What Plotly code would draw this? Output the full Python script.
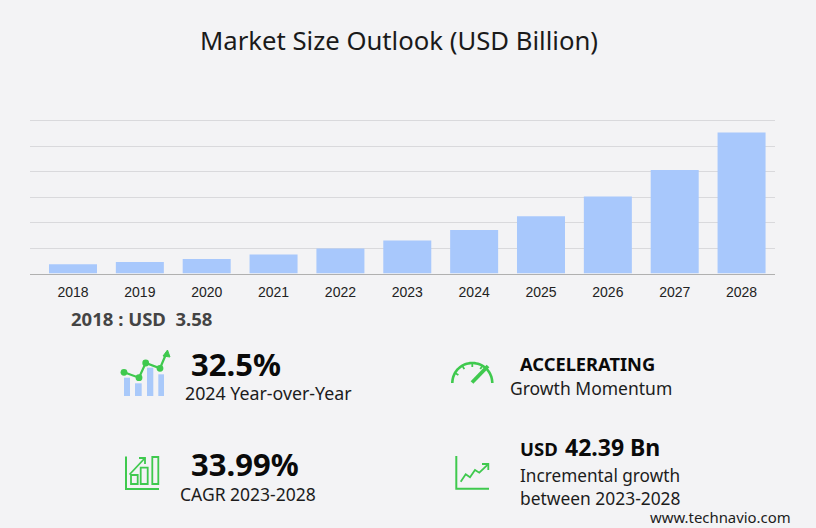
import numpy as np
import plotly.graph_objects as go

years = ['2018', '2019', '2020', '2021', '2022', '2023', '2024', '2025', '2026', '2027', '2028']
market_size = [3.58, 4.5, 5.7, 7.5, 9.8, 12.9, 17.1, 22.5, 30.2, 40.6, 55.3]

BG = '#f3f3f5'
BLUE = '#a8c8fc'
GREEN = '#3fc94e'
SANS = 'Noto Sans'

# text blocks: text, left px, centre px, size, bold, colour
labels = [
    ('2018 : USD  3.58', 70, 318, 18.5, True, '#444444'),
    ('32.5%', 190, 364, 31, True, '#0a0a0a'),
    ('2024 Year-over-Year', 184, 393, 17.8, False, '#1c1c1c'),
    ('33.99%', 190, 464, 31, True, '#0a0a0a'),
    ('CAGR 2023-2028', 179, 493.5, 17.5, False, '#1c1c1c'),
    ('ACCELERATING', 519, 363, 18.3, True, '#0a0a0a'),
    ('Growth Momentum', 509, 388, 17.5, False, '#1c1c1c'),
    ('USD', 519, 448, 18.5, True, '#0a0a0a'),
    ('42.39 Bn', 564, 447, 23, True, '#0a0a0a'),
    ('Incremental growth', 519, 475, 17.2, False, '#1c1c1c'),
    ('between 2023-2028', 519, 498, 17.4, False, '#1c1c1c'),
    ('www.technavio.com', 649, 517, 14.9, False, '#1c1c1c'),
]


def line(points, width=2.0, color=GREEN):
    path = 'M ' + ' L '.join(f'{x:.1f} {y:.1f}' for x, y in points)
    return dict(type='path', path=path, xref='x2', yref='y2', layer='above',
                line=dict(color=color, width=width))


def box(x0, y0, x1, y1, fill=None, color=GREEN, width=1.8):
    return dict(type='rect', x0=x0, y0=y0, x1=x1, y1=y1, xref='x2', yref='y2', layer='above',
                fillcolor=fill if fill else 'rgba(0,0,0,0)',
                line=dict(color=color, width=0 if fill else width))


def dot(x, y, r=3.4):
    return dict(type='circle', x0=x - r, y0=y - r, x1=x + r, y1=y + r, xref='x2', yref='y2',
                layer='above', fillcolor=GREEN, line=dict(width=0))


shapes = []

# year-over-year icon
for x0, x1, top in [(124, 130, 377.7), (135, 141.7, 383.3), (147, 153.3, 367.7), (158.3, 164, 374.3)]:
    shapes.append(box(x0, top, x1, 396, fill='#a9c9fa'))
trend = [(124, 372.3), (139, 377.7), (145.7, 363), (160, 368.3), (166.5, 353)]
shapes.append(line(trend, 2.2))
for x, y in trend[:-1]:
    shapes.append(dot(x, y))
shapes.append(dict(type='path', path='M 167.5 350 L 163 356 L 170 357 Z', xref='x2', yref='y2',
                   layer='above', fillcolor=GREEN, line=dict(color=GREEN, width=1)))

# cagr icon
shapes.append(line([(126, 456.5), (126, 489), (159, 489)]))
shapes.append(box(131, 475, 137.7, 484))
shapes.append(box(140.7, 467.7, 147.7, 484))
shapes.append(box(152.3, 457, 158.3, 484))
shapes.append(line([(129.5, 474.5), (145, 458)], 1.8))
shapes.append(line([(139, 458), (145, 458), (145, 464)], 1.8))

# momentum gauge icon
cx, cy, rad = 472.3, 383, 20
angles = np.linspace(np.pi, 0, 40)
shapes.append(line([(cx + rad * np.cos(a), cy - rad * np.sin(a)) for a in angles], 2.6))
for a in np.radians([150, 120, 90, 60]):
    shapes.append(line([(cx + rad * np.cos(a), cy - rad * np.sin(a)),
                        (cx + (rad - 4) * np.cos(a), cy - (rad - 4) * np.sin(a))], 1.8))
shapes.append(line([(472, 382.5), (488, 366)], 3.8))

# incremental growth icon
shapes.append(line([(456.3, 456), (456.3, 488.7), (489, 488.7)]))
shapes.append(line([(460.7, 481.7), (465.7, 474.3), (470, 477.3), (475, 470), (479.3, 472.7), (488, 464.3)], 1.8))
shapes.append(line([(482, 464), (488.3, 464), (488.3, 470)], 1.8))

fig = go.Figure()
fig.add_trace(go.Bar(x=years, y=market_size, marker=dict(color=BLUE, line=dict(width=0)), width=0.718))
# hidden pixel axes so the icons and text blocks can sit anywhere on the page
fig.add_trace(go.Scatter(x=[0, 816], y=[0, 528], xaxis='x2', yaxis='y2', mode='markers',
                         marker=dict(opacity=0), hoverinfo='skip'))

annotations = [dict(text=t, x=x, y=y, xref='x2', yref='y2', xanchor='left', yanchor='middle',
                    showarrow=False, borderpad=0,
                    font=dict(family=SANS, size=s, color=c, weight='bold' if b else 'normal'))
               for t, x, y, s, b, c in labels]

fig.update_layout(
    width=816,
    height=528,
    margin=dict(t=0, b=0, l=0, r=0),
    paper_bgcolor=BG,
    plot_bgcolor='rgba(0,0,0,0)',
    showlegend=False,
    title=dict(text='Market Size Outlook (USD Billion)', x=399 / 816, xanchor='center',
               y=1 - 41 / 528, yanchor='middle', font=dict(family=SANS, size=25.7, color='#1a1a1a')),
    xaxis=dict(domain=[30 / 816, 775 / 816], type='category', range=[-0.643, 10.5], showgrid=False,
               showline=True, linecolor='#b0b0b0', linewidth=1, ticks='', ticklen=0, ticklabelstandoff=6,
               tickfont=dict(family='Liberation Sans', size=14, color='#222222')),
    # range runs a little past 60 so plotly keeps the top gridline
    yaxis=dict(domain=[(528 - 273.5) / 528, (528 - 118) / 528], range=[0, 61], dtick=10,
               showticklabels=False, gridcolor='#d9d9dc', gridwidth=1, zeroline=False, ticks=''),
    xaxis2=dict(domain=[0, 1], range=[0, 816], visible=False, anchor='y2'),
    yaxis2=dict(domain=[0, 1], range=[528, 0], visible=False, anchor='x2'),
    shapes=shapes,
    annotations=annotations,
)

fig.write_html('out.html', config=dict(displayModeBar=False),
               post_script="document.body.style.margin='0';")
